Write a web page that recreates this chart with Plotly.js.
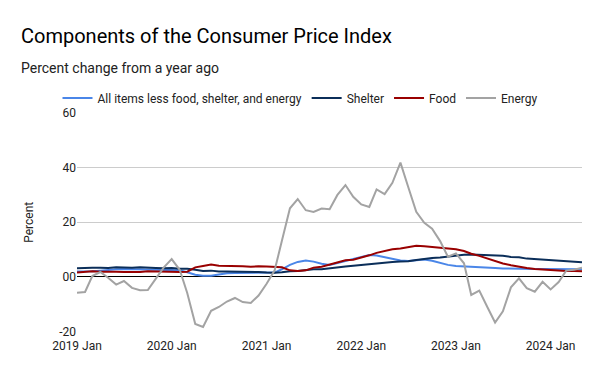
<!DOCTYPE html>
<html>
<head>
<meta charset="utf-8">
<script src="https://cdn.plot.ly/plotly-3.0.1.min.js"></script>
<style>
  html, body { margin: 0; padding: 0; background: #fff; }
  #chart { width: 600px; height: 371px; }
</style>
</head>
<body>
<div id="chart"></div>
<script>
// Months: Jan 2019 .. May 2024
const years = [2019, 2020, 2021, 2022, 2023, 2024];
const lastYearMonths = 5;
const months = [];
years.forEach(function (y, i) {
  const n = (i === years.length - 1) ? lastYearMonths : 12;
  for (let m = 1; m <= n; m++) months.push(y + '-' + String(m).padStart(2, '0') + '-01');
});

const seriesNames = ['All items less food, shelter, and energy', 'Shelter', 'Food', 'Energy'];

const coreLessShelter = [
  2.0, 2.0, 2.1, 2.3, 2.6, 2.8, 2.9, 2.9, 2.8, 2.7, 2.6, 2.5,
  2.5, 2.4, 1.7, 0.8, 0.4, 0.4, 0.9, 1.3, 1.4, 1.4, 1.4, 1.4,
  1.4, 1.6, 2.8, 4.4, 5.5, 6.0, 5.6, 4.8, 4.4, 5.0, 5.8, 6.6,
  7.3, 8.0, 7.8, 7.2, 6.6, 6.0, 5.8, 6.2, 6.4, 5.9, 5.1, 4.4,
  4.0, 3.9, 3.8, 3.7, 3.5, 3.3, 3.1, 3.0, 2.9, 2.9, 2.9, 2.9,
  2.9, 2.9, 3.0, 2.9, 2.8
];

const shelter = [
  3.2, 3.4, 3.4, 3.4, 3.3, 3.5, 3.4, 3.4, 3.5, 3.3, 3.3, 3.2,
  3.3, 3.0, 3.0, 2.6, 2.2, 2.3, 2.0, 2.0, 2.0, 1.9, 1.9, 1.8,
  1.6, 1.5, 1.7, 2.1, 2.2, 2.6, 2.8, 2.8, 3.2, 3.5, 3.8, 4.1,
  4.4, 4.7, 5.0, 5.1, 5.5, 5.6, 5.7, 6.2, 6.6, 6.9, 7.1, 7.5,
  7.9, 8.1, 8.2, 8.1, 8.0, 7.8, 7.7, 7.3, 7.2, 6.7, 6.5, 6.2,
  6.0, 5.7, 5.7, 5.5, 5.4
];

const food = [
  1.6, 2.0, 2.1, 1.9, 2.0, 1.9, 1.8, 1.7, 1.8, 2.1, 2.0, 1.8,
  1.8, 1.8, 1.9, 3.5, 4.0, 4.5, 4.1, 4.1, 3.9, 3.9, 3.7, 3.9,
  3.8, 3.6, 3.5, 2.4, 2.2, 2.4, 3.4, 3.7, 4.6, 5.3, 6.1, 6.3,
  7.0, 7.9, 8.8, 9.4, 10.1, 10.4, 10.9, 11.4, 11.2, 10.9, 10.6, 10.4,
  10.1, 9.5, 8.5, 7.7, 6.7, 5.7, 4.9, 4.3, 3.7, 3.3, 2.9, 2.7,
  2.6, 2.2, 2.2, 2.2, 2.1
];

const energy = [
  -5.8, -5.5, 0.3, 1.8, -0.3, -2.8, -1.5, -4.0, -4.9, -4.8, -0.6, 3.4,
  6.5, 2.6, -5.9, -17.2, -18.3, -12.4, -11.0, -9.0, -7.7, -9.2, -9.5, -6.8,
  -2.5, 2.4, 13.2, 25.1, 28.5, 24.4, 23.8, 25.0, 24.8, 30.0, 33.6, 29.3,
  26.5, 25.6, 32.0, 30.3, 34.4, 41.8, 32.9, 23.8, 19.8, 17.6, 13.1, 7.4,
  8.6, 5.0, -6.6, -5.0, -10.8, -16.7, -12.6, -3.8, -0.5, -4.1, -5.4, -1.8,
  -4.6, -1.9, 2.3, 2.6, 3.4
];

const yTickVals = [-20, 0, 20, 40, 60];
const yTickText = ['-20', '00', '20', '40', '60'];

const colors = ['#4a86e8', '#0b2e59', '#990000', '#a3a3a3'];
const values = [coreLessShelter, shelter, food, energy];

const FONT = 'Roboto, Arial, sans-serif';

const traces = values.map(function (v, i) {
  return {
    type: 'scatter', mode: 'lines', x: months, y: v, name: seriesNames[i],
    line: { color: colors[i], width: 2 },
    hoverinfo: 'skip'
  };
});

const W = 600, H = 371, L = 77, R = 18, T = 112, B = 39;
const pw = W - L - R, ph = H - T - B;

const layout = {
  width: W, height: H,
  margin: { l: L, r: R, t: T, b: B, pad: 0 },
  paper_bgcolor: '#fff', plot_bgcolor: '#fff',
  font: { family: FONT, size: 12, color: '#222' },
  title: {
    text: 'Components of the Consumer Price Index',
    xref: 'container', yref: 'container',
    x: 21 / W, xanchor: 'left', y: 1 - 36 / H, yanchor: 'middle',
    font: { family: FONT, size: 20, color: '#000' }
  },
  annotations: [{
    text: 'Percent change from a year ago', showarrow: false,
    xref: 'paper', yref: 'paper',
    x: (19 - L) / pw, xanchor: 'left', y: (H - B - 67) / ph, yanchor: 'middle',
    font: { family: FONT, size: 14, color: '#222' }
  }],
  showlegend: true,
  legend: {
    orientation: 'h', xref: 'container', yref: 'container',
    x: 0.5, xanchor: 'center', y: 1 - 98 / H, yanchor: 'middle',
    bgcolor: 'rgba(0,0,0,0)',
    font: { family: FONT, size: 12, color: '#222' },
    itemwidth: 30, tracegroupgap: 0
  },
  xaxis: {
    type: 'date',
    range: [months[0], months[months.length - 1]],
    tickformat: '%Y %b', dtick: 'M12', tick0: '2019-01-01',
    showgrid: false, zeroline: false, showline: false, ticks: '',
    ticklabelstandoff: 5,
    tickfont: { family: FONT, size: 12, color: '#222' }
  },
  yaxis: {
    range: [-20.15, 60.15], tickvals: yTickVals, ticktext: yTickText,
    showgrid: true, gridcolor: '#cccccc', gridwidth: 1,
    zeroline: true, zerolinecolor: '#000', zerolinewidth: 1,
    showline: false, ticks: '',
    tickfont: { family: FONT, size: 12, color: '#222' },
    title: { text: 'Percent', standoff: 22, font: { family: FONT, size: 12, color: '#222' } }
  }
};

Plotly.newPlot('chart', traces, layout, { staticPlot: true, displayModeBar: false });
</script>
</body>
</html>
